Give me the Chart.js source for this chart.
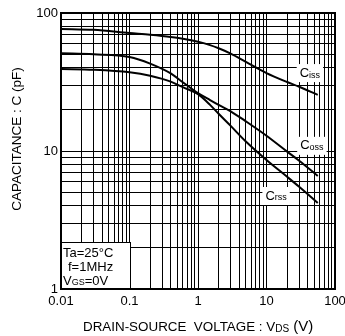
<!DOCTYPE html>
<html>
<head>
<meta charset="utf-8">
<script src="https://cdn.jsdelivr.net/npm/chart.js@4.4.0/dist/chart.umd.min.js"></script>
<style>
  html, body { margin: 0; padding: 0; background: #fff; }
  #wrap { width: 345px; height: 336px; }
</style>
</head>
<body>
<div id="wrap"><canvas id="capChart"></canvas></div>
<script>
// values (pF vs V)
const vds  = [0.01, 0.03, 0.1, 0.2, 0.4, 0.6, 1, 1.5, 2, 3, 5, 10, 20, 30, 56];
const ciss = [76.6, 75.5, 71.5, 69.5, 67, 65, 61.8, 58.5, 55.5, 50.8, 44.2, 36.7, 31.6, 29.2, 25.5];
const coss = [51, 50.2, 48, 43, 36.5, 31.5, 26.3, 23.4, 21.6, 19.4, 16.4, 12.9, 9.9, 8.5, 6.6];
const crss = [39.3, 38.8, 37.2, 35.1, 31.8, 29.0, 25.8, 21.6, 18.6, 15.2, 11.7, 8.6, 6.5, 5.5, 4.2];

const xDecades = [0.01, 0.1, 1, 10, 100];
const xTickLabels = ['0.01', '0.1', '1', '10', '100'];
const yDecades = [1, 10, 100];
const yTickLabels = ['1', '10', '100'];

const FONT = '"Liberation Sans", Arial, sans-serif';

// 1..9 in every decade, for the dense log grid
function gridTicks(decades) {
    const out = [];
    decades.forEach((d, i) => {
        if (i === decades.length - 1) {
            out.push({ value: d });
            return;
        }
        for (let m = 1; m <= 9; m++) out.push({ value: d * m });
    });
    return out;
}

function decadeLabel(value, decades, labels) {
    const i = decades.findIndex(d => Math.abs(Math.log10(d) - Math.log10(value)) < 1e-6);
    return i >= 0 ? labels[i] : '';
}

// text with a subscript part
function drawParts(ctx, x, y, parts) {
    parts.forEach(p => {
        ctx.font = p.size + 'px ' + FONT;
        ctx.fillText(p.text, x, y + (p.sub ? 2 : 0));
        x += ctx.measureText(p.text).width;
    });
    return x;
}

function partsWidth(ctx, parts) {
    let w = 0;
    parts.forEach(p => {
        ctx.font = p.size + 'px ' + FONT;
        w += ctx.measureText(p.text).width;
    });
    return w;
}

const overlay = {
    id: 'overlay',
    afterDatasetsDraw(chart) {
        const { ctx, chartArea: a, scales: { x, y } } = chart;
        ctx.save();
        ctx.fillStyle = '#000';
        ctx.textBaseline = 'middle';
        ctx.textAlign = 'left';

        // curve names, boxed in white
        const names = [
            { at: [43, 36.7], parts: [{ text: 'C', size: 13 }, { text: 'iss', size: 9, sub: true }] },
            { at: [46, 10.9], parts: [{ text: 'C', size: 13 }, { text: 'oss', size: 9, sub: true }] },
            { at: [13.8, 4.72], parts: [{ text: 'C', size: 13 }, { text: 'rss', size: 9, sub: true }] }
        ];
        names.forEach(n => {
            const cx = x.getPixelForValue(n.at[0]);
            const cy = y.getPixelForValue(n.at[1]);
            const w = partsWidth(ctx, n.parts);
            ctx.fillStyle = '#fff';
            ctx.fillRect(cx - w / 2 - 3, cy - 9, w + 6, 18);
            ctx.fillStyle = '#000';
            drawParts(ctx, cx - w / 2, cy, n.parts);
        });

        // test conditions box, bottom left
        const bx = a.left, by = 242, bw = 69, bh = a.bottom - 242;
        ctx.fillStyle = '#fff';
        ctx.fillRect(bx, by, bw, bh);
        ctx.strokeStyle = '#000';
        ctx.lineWidth = 1;
        ctx.strokeRect(bx + 0.5, by + 0.5, bw, bh);
        ctx.fillStyle = '#000';
        drawParts(ctx, bx + 2, 253, [{ text: 'Ta=25°C', size: 13 }]);
        drawParts(ctx, bx + 7, 267, [{ text: 'f=1MHz', size: 13 }]);
        drawParts(ctx, bx + 2, 281, [{ text: 'V', size: 13 }, { text: 'GS', size: 9, sub: true }, { text: '=0V', size: 13 }]);

        // frame
        ctx.lineWidth = 2;
        ctx.strokeRect(a.left, a.top, a.right - a.left, a.bottom - a.top);

        // axis titles
        drawParts(ctx, 83, 327, [
            { text: 'DRAIN-SOURCE  VOLTAGE : V', size: 13.4 },
            { text: 'DS', size: 10, sub: true },
            { text: ' (V)', size: 15 }
        ]);
        ctx.translate(17, 139);
        ctx.rotate(-Math.PI / 2);
        ctx.textAlign = 'center';
        ctx.font = '13.5px ' + FONT;
        ctx.fillText('CAPACITANCE : C (pF)', 0, 0);
        ctx.restore();
    }
};

const lineStyle = {
    borderColor: '#000',
    borderWidth: 2,
    pointRadius: 0,
    fill: false,
    cubicInterpolationMode: 'monotone'
};

new Chart(document.getElementById('capChart'), {
    type: 'line',
    data: {
        datasets: [
            Object.assign({ label: 'Ciss', data: vds.map((v, i) => ({ x: v, y: ciss[i] })) }, lineStyle),
            Object.assign({ label: 'Coss', data: vds.map((v, i) => ({ x: v, y: coss[i] })) }, lineStyle),
            Object.assign({ label: 'Crss', data: vds.map((v, i) => ({ x: v, y: crss[i] })) }, lineStyle)
        ]
    },
    options: {
        responsive: true,
        maintainAspectRatio: false,
        animation: false,
        layout: { padding: { top: 13, right: 10, left: 0, bottom: 0 } },
        plugins: {
            legend: { display: false },
            tooltip: { enabled: false }
        },
        scales: {
            x: {
                type: 'logarithmic',
                min: 0.01,
                max: 100,
                afterBuildTicks: scale => { scale.ticks = gridTicks(xDecades); },
                afterFit: scale => {
                    scale.height = 47;
                    scale.paddingLeft = 0;
                    scale.paddingRight = 0;
                },
                grid: { color: '#000', lineWidth: 1, drawTicks: false },
                border: { display: false },
                ticks: {
                    autoSkip: false,
                    maxRotation: 0,
                    padding: 5,
                    color: '#000',
                    font: { family: FONT, size: 13 },
                    callback: v => decadeLabel(v, xDecades, xTickLabels)
                }
            },
            y: {
                type: 'logarithmic',
                min: 1,
                max: 100,
                afterBuildTicks: scale => { scale.ticks = gridTicks(yDecades); },
                afterFit: scale => {
                    scale.width = 61;
                    scale.paddingTop = 0;
                    scale.paddingBottom = 0;
                },
                grid: { color: '#000', lineWidth: 1, drawTicks: false },
                border: { display: false },
                ticks: {
                    autoSkip: false,
                    padding: 3,
                    color: '#000',
                    font: { family: FONT, size: 13 },
                    callback: v => decadeLabel(v, yDecades, yTickLabels)
                }
            }
        }
    },
    plugins: [overlay]
});
</script>
</body>
</html>
